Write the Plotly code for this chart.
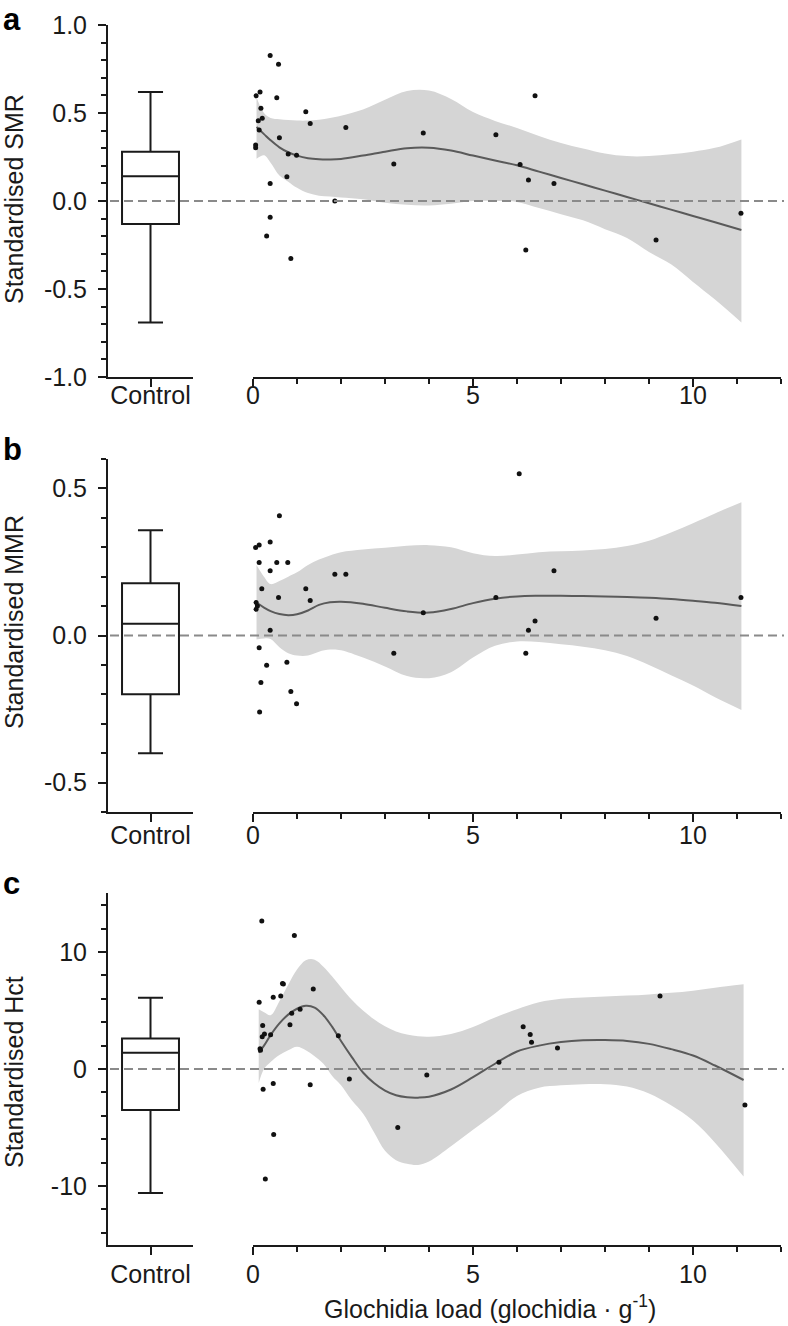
import plotly.graph_objects as go

W, H = 788, 1326
FONT = "Liberation Sans, Arial, sans-serif"

# ---------------- data ----------------
box_label = ["Control"]
# [lower whisker, Q1, median, Q3, upper whisker]
smr_box = [-0.69, -0.13, 0.14, 0.28, 0.62]
mmr_box = [-0.40, -0.20, 0.04, 0.178, 0.358]
hct_box = [-10.6, -3.5, 1.4, 2.6, 6.1]

smr_x = [0.39, 0.58, 0.07, 0.16, 0.54, 0.18, 0.21, 0.12, 0.14, 1.20, 1.30, 2.11, 3.87, 5.52, 0.60, 0.06, 0.06,
         0.80, 0.99, 3.20, 0.77, 0.39, 1.86, 0.39, 0.31, 0.86, 6.41, 6.07, 6.26, 6.84, 11.09, 9.16, 6.20]
smr_y = [0.826, 0.777, 0.598, 0.619, 0.587, 0.527, 0.47, 0.456, 0.403, 0.507, 0.44, 0.417, 0.386, 0.377, 0.36,
         0.318, 0.303, 0.267, 0.26, 0.21, 0.138, 0.10, 0.0, -0.093, -0.199, -0.326, 0.598, 0.208, 0.119, 0.10,
         -0.07, -0.222, -0.278]

mmr_x = [0.60, 0.06, 0.14, 0.39, 0.14, 0.54, 0.79, 0.39, 1.86, 2.11, 0.20, 1.20, 0.58, 1.30, 0.07, 0.10, 0.07,
         3.87, 5.52, 6.05, 0.39, 0.14, 3.20, 0.77, 0.31, 0.18, 0.86, 0.99, 0.15, 6.84, 11.09, 6.41, 6.26, 6.20, 9.16]
mmr_y = [0.407, 0.299, 0.308, 0.318, 0.248, 0.248, 0.248, 0.22, 0.208, 0.208, 0.159, 0.159, 0.129, 0.119, 0.112,
         0.10, 0.089, 0.077, 0.129, 0.55, 0.018, -0.042, -0.06, -0.091, -0.101, -0.16, -0.19, -0.232, -0.26,
         0.22, 0.129, 0.049, 0.018, -0.06, 0.059]

hct_x = [0.20, 0.94, 0.67, 0.69, 0.14, 0.46, 0.63, 1.37, 1.07, 0.88, 0.84, 0.22, 0.21, 0.26, 0.40, 0.16, 0.17,
         1.94, 2.19, 3.95, 0.46, 0.23, 1.30, 3.29, 5.59, 6.14, 6.30, 6.33, 6.92, 9.25, 11.18, 0.47, 0.28]
hct_y = [12.65, 11.42, 7.32, 7.26, 5.7, 6.13, 6.24, 6.84, 5.1, 4.76, 3.79, 3.73, 2.76, 2.99, 2.93, 1.74, 1.6,
         2.85, -0.85, -0.51, -1.23, -1.74, -1.34, -5.0, 0.57, 3.62, 2.96, 2.28, 1.79, 6.24, -3.08, -5.6, -9.4]

# smoothed fits with confidence bands
ab_grid = [0.08, 0.25, 0.4, 0.6, 0.8, 1.0, 1.25, 1.5, 1.75, 2.0, 2.5, 3.0, 3.5, 4.0, 4.5, 5.0, 5.5, 6.0,
           6.5, 7.0, 7.5, 8.0, 8.5, 9.0, 9.5, 10.0, 10.5, 11.1]
smr_fit = [0.42, 0.38, 0.345, 0.305, 0.277, 0.258, 0.243, 0.237, 0.236, 0.239, 0.258, 0.28, 0.30, 0.303, 0.287,
           0.258, 0.23, 0.203, 0.167, 0.131, 0.095, 0.059, 0.023, -0.013, -0.049, -0.085, -0.121, -0.165]
smr_hi = [0.59, 0.50, 0.472, 0.465, 0.46, 0.457, 0.457, 0.462, 0.472, 0.485, 0.52, 0.575, 0.625, 0.628, 0.58,
          0.505, 0.455, 0.415, 0.37, 0.33, 0.298, 0.27, 0.255, 0.255, 0.265, 0.28, 0.302, 0.35]
smr_lo = [0.24, 0.26, 0.218, 0.145, 0.11, 0.075, 0.045, 0.03, 0.025, 0.02, 0.01, -0.01, -0.022, -0.025, -0.015,
          0.0, 0.0, -0.005, -0.04, -0.075, -0.11, -0.16, -0.21, -0.29, -0.36, -0.46, -0.56, -0.69]

mmr_fit = [0.112, 0.095, 0.083, 0.073, 0.069, 0.072, 0.085, 0.104, 0.113, 0.115, 0.108, 0.094, 0.082, 0.078,
           0.09, 0.11, 0.125, 0.133, 0.135, 0.135, 0.134, 0.133, 0.131, 0.128, 0.124, 0.118, 0.111, 0.10]
mmr_hi = [0.24, 0.20, 0.175, 0.185, 0.20, 0.215, 0.24, 0.258, 0.272, 0.283, 0.292, 0.298, 0.305, 0.307, 0.30,
          0.28, 0.27, 0.275, 0.283, 0.286, 0.289, 0.294, 0.304, 0.322, 0.35, 0.382, 0.415, 0.453]
mmr_lo = [-0.014, -0.01, -0.012, -0.04, -0.06, -0.068, -0.068, -0.055, -0.048, -0.05, -0.075, -0.105, -0.138,
          -0.145, -0.125, -0.075, -0.035, -0.02, -0.022, -0.03, -0.038, -0.05, -0.07, -0.10, -0.135, -0.17,
          -0.21, -0.253]

c_grid = [0.13, 0.25, 0.4, 0.6, 0.8, 1.0, 1.2, 1.4, 1.6, 1.8, 2.0, 2.25, 2.5, 2.75, 3.0, 3.25, 3.5, 3.75, 4.0,
          4.5, 5.0, 5.5, 6.0, 6.5, 7.0, 7.5, 8.0, 8.5, 9.0, 9.5, 10.0, 10.5, 11.15]
hct_fit = [1.4, 2.0, 2.9, 3.9, 4.65, 5.15, 5.4, 5.25, 4.6, 3.6, 2.4, 1.0, -0.3, -1.2, -1.85, -2.25, -2.42, -2.45,
           -2.37, -1.75, -0.7, 0.45, 1.5, 2.0, 2.3, 2.45, 2.47, 2.4, 2.15, 1.7, 1.15, 0.3, -0.94]
hct_hi = [5.1, 4.85, 4.6, 5.8, 7.2, 8.5, 9.3, 9.35, 8.75, 7.9, 7.0, 5.9, 5.0, 4.25, 3.65, 3.2, 2.95, 2.8, 2.76,
          3.0, 3.6, 4.4, 5.1, 5.7, 6.0, 6.12, 6.2, 6.28, 6.38, 6.52, 6.7, 6.95, 7.24]
hct_lo = [-1.2, 0.0, 0.6, 1.2, 1.6, 1.9, 1.6, 1.1, 0.45, -0.6, -1.4, -2.7, -3.8, -5.4, -7.0, -7.8, -8.1, -8.2,
          -7.9, -6.6, -5.2, -3.8, -2.3, -1.6, -1.4, -1.3, -1.3, -1.5, -2.1, -3.1, -4.4, -6.3, -9.2]

ytick_a = [-1.0, -0.5, 0.0, 0.5, 1.0]
ytext_a = ["-1.0", "-0.5", "0.0", "0.5", "1.0"]
ytick_b = [-0.5, 0.0, 0.5]
ytext_b = ["-0.5", "0.0", "0.5"]
ytick_c = [-10, 0, 10]
ytext_c = ["-10", "0", "10"]
xtick_s = [0, 5, 10]
xtext_s = ["0", "5", "10"]

y_titles = ["Standardised SMR", "Standardised MMR", "Standardised Hct"]
panel_letters = ["a", "b", "c"]
x_title = "Glochidia load (glochidia · g<sup>-1</sup>)"

# ---------------- layout geometry (pixels) ----------------
def fx(px):
    return px / W

def fy(py):
    return 1 - py / H

BOX_X = (108, 193)
SCAT_X = (253, 781)
PANEL_Y = [(25, 377), (459, 812), (893, 1245)]
YRANGES = [(-1.0, 1.0), (-0.6, 0.6), (-15.05, 15.05)]
YMINOR = [0.1, 0.1, 2]
TICKS = [(ytick_a, ytext_a), (ytick_b, ytext_b), (ytick_c, ytext_c)]
XLAB_STANDOFF = [-13, -8, -2]

AX_COL = "#1a1a1a"
TXT_COL = "#1a1a1a"
BAND_COL = "#d5d5d5"
FIT_COL = "#5a5a5a"

fig = go.Figure()

panels = [
    (smr_box, smr_x, smr_y, ab_grid, smr_fit, smr_lo, smr_hi),
    (mmr_box, mmr_x, mmr_y, ab_grid, mmr_fit, mmr_lo, mmr_hi),
    (hct_box, hct_x, hct_y, c_grid, hct_fit, hct_lo, hct_hi),
]

layout = {}
for i, (bx, sx, sy, gx, gfit, glo, ghi) in enumerate(panels):
    bxa = 2 * i + 1
    sxa = 2 * i + 2
    bx_name = "x" if bxa == 1 else f"x{bxa}"
    by_name = "y" if bxa == 1 else f"y{bxa}"
    sx_name = f"x{sxa}"
    sy_name = f"y{sxa}"

    fig.add_trace(go.Box(
        x=[0], lowerfence=[bx[0]], q1=[bx[1]], median=[bx[2]], q3=[bx[3]], upperfence=[bx[4]],
        width=0.67, whiskerwidth=0.44, fillcolor="white",
        line=dict(color=AX_COL, width=2), boxpoints=False,
        xaxis=bx_name, yaxis=by_name, showlegend=False, hoverinfo="skip"))

    fig.add_trace(go.Scatter(x=gx, y=ghi, mode="lines", line=dict(width=0, color=BAND_COL, shape="spline"),
                             xaxis=sx_name, yaxis=sy_name, showlegend=False, hoverinfo="skip"))
    fig.add_trace(go.Scatter(x=gx, y=glo, mode="lines", line=dict(width=0, color=BAND_COL, shape="spline"),
                             fill="tonexty", fillcolor=BAND_COL,
                             xaxis=sx_name, yaxis=sy_name, showlegend=False, hoverinfo="skip"))
    fig.add_trace(go.Scatter(x=gx, y=gfit, mode="lines", line=dict(width=2, color=FIT_COL, shape="spline"),
                             xaxis=sx_name, yaxis=sy_name, showlegend=False, hoverinfo="skip"))
    fig.add_trace(go.Scatter(x=sx, y=sy, mode="markers", marker=dict(size=5, color="#111111"),
                             xaxis=sx_name, yaxis=sy_name, showlegend=False, hoverinfo="skip"))

    y0, y1 = PANEL_Y[i]
    ydom = [fy(y1), fy(y0)]
    tv, tt = TICKS[i]
    common_line = dict(showline=True, linecolor=AX_COL, linewidth=2, showgrid=False, zeroline=False,
                       ticks="outside", ticklen=8, tickwidth=2, tickcolor=AX_COL, automargin=False,
                       tickfont=dict(family=FONT, size=25, color=TXT_COL))

    layout["xaxis" if bxa == 1 else f"xaxis{bxa}"] = dict(
        domain=[fx(BOX_X[0]), fx(BOX_X[1])], range=[-0.5, 0.5], anchor=by_name,
        tickmode="array", tickvals=[0], ticktext=box_label, ticklabelstandoff=XLAB_STANDOFF[i],
        fixedrange=True, **common_line)
    layout["yaxis" if bxa == 1 else f"yaxis{bxa}"] = dict(
        domain=ydom, range=list(YRANGES[i]), anchor=bx_name,
        tickmode="array", tickvals=tv, ticktext=tt, ticklabelstandoff=6,
        minor=dict(tickmode="linear", tick0=0, dtick=YMINOR[i], ticks="outside", ticklen=5,
                   tickwidth=2, tickcolor=AX_COL, showgrid=False),
        fixedrange=True, **common_line)
    layout[f"xaxis{sxa}"] = dict(
        domain=[fx(SCAT_X[0]), fx(SCAT_X[1])], range=[0, 12], anchor=sy_name,
        tickmode="array", tickvals=xtick_s, ticktext=xtext_s, ticklabelstandoff=XLAB_STANDOFF[i],
        minor=dict(tickmode="linear", tick0=0, dtick=1, ticks="outside", ticklen=5,
                   tickwidth=2, tickcolor=AX_COL, showgrid=False),
        fixedrange=True, **common_line)
    layout[f"yaxis{sxa}"] = dict(domain=ydom, matches=by_name, anchor=sx_name, visible=False,
                                 showgrid=False, zeroline=False, fixedrange=True, automargin=False)

layout["shapes"] = []
layout["annotations"] = []
ylab_centers = [199, 622, 1072]
letter_top = [0, 430, 864]
for i in range(3):
    by_name = "y" if i == 0 else f"y{2 * i + 1}"
    layout["shapes"].append(dict(type="line", xref="paper", yref=by_name, x0=fx(110), x1=fx(784), y0=0, y1=0,
                                 line=dict(color="#8a8a8a", width=2, dash="9px,5px"), layer="above"))
    layout["annotations"].append(dict(text=y_titles[i], xref="paper", yref="paper", x=fx(14), y=fy(ylab_centers[i]),
                                      textangle=-90, showarrow=False, xanchor="center", yanchor="middle",
                                      font=dict(family=FONT, size=25, color=TXT_COL)))
    layout["annotations"].append(dict(text=f"<b>{panel_letters[i]}</b>", xref="paper", yref="paper",
                                      x=fx(1), y=fy(letter_top[i]), showarrow=False, xanchor="left",
                                      yanchor="top", font=dict(family=FONT, size=31, color="#000")))
layout["annotations"].append(dict(text=x_title, xref="paper", yref="paper", x=fx(490), y=fy(1307),
                                  showarrow=False, xanchor="center", yanchor="middle",
                                  font=dict(family=FONT, size=25, color=TXT_COL)))

fig.update_layout(template="none", width=W, height=H, margin=dict(l=0, r=0, t=0, b=0, pad=0),
                  paper_bgcolor="white", plot_bgcolor="white", showlegend=False, **layout)

fig.write_html("out.html", config={"displayModeBar": False, "staticPlot": True},
               post_script="document.body.style.margin='0';document.body.style.padding='0';")
